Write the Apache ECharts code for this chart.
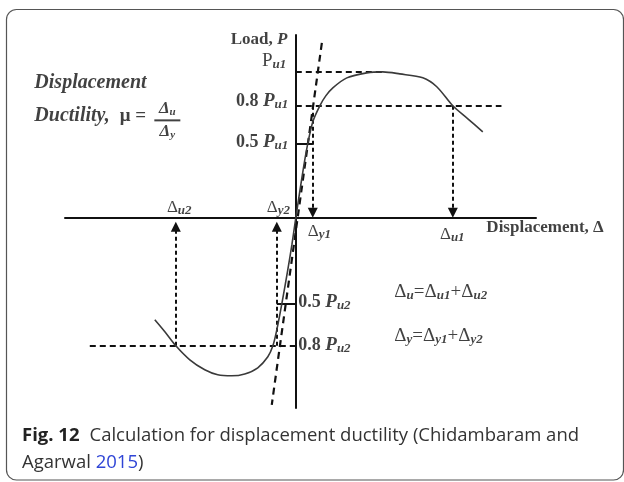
<!DOCTYPE html>
<html lang="en">
<head>
  <meta charset="UTF-8">
  <title>displacement ductility</title>
  <style>
    html, body, #chart {
      margin: 0;
      padding: 0;
      width: 100%;
      height: 100%;
      background: #fff;
    }
  </style>
</head>
<body>
<div id="chart"></div>

<script src="https://cdn.jsdelivr.net/npm/echarts@6/dist/echarts.min.js"></script>
<script>
  // load in % of Pu1, displacement in arbitrary units (Δu1 = 100)
  var posDisp = [0, 2.5, 5.1, 7.6, 10.8, 15.3, 19.1, 23.6, 32.5, 45.2, 55.4, 66.2, 80.9, 89.8, 100, 109.6, 119.1];
  var posLoad = [0, 17.8, 35.6, 50.6, 65.6, 76.6, 83.4, 88.9, 95.7, 99.1, 99.8, 98.4, 95.7, 89.6, 76.6, 67.7, 58.8];
  var negDisp = [0, -2.5, -5.1, -8.9, -12.1, -14.6, -17.8, -24.2, -32.5, -40.8, -49.7, -58, -67.5, -76.4, -83.4, -89.8];
  var negLoad = [0, -18.5, -35.6, -58.8, -76.6, -87.5, -95, -102.5, -106.7, -108, -107.3, -103.9, -97.1, -87.5, -77.9, -69.7];

  // dashed secant through the origin
  var secantDisp = [16.6, -15.3];
  var secantLoad = [119.6, -127.8];

  // load levels: Pu1, 0.8Pu1, 0.5Pu1, 0.5Pu2, 0.8Pu2 and where their guide ends
  var levelLoad = [100, 76.6, 50.6, -58.8, -87.5];
  var levelEnd = [55.4, 131, 10.8, -12.1, -133];
  var levelDashed = [true, true, false, false, true];

  // displacements: Δy1, Δu1, Δy2, Δu2
  var dispValue = [10.8, 100, -12.1, -76.4];
  var dispFrom = [76.6, 76.6, -87.5, -87.5];

  var serif = 'Liberation Serif';
  var ink = '#111';

  function pairs(xs, ys) {
    return xs.map(function (x, i) { return [x, ys[i]]; });
  }

  var guides = [], ticks = [];
  levelLoad.forEach(function (y, i) {
    var seg = {coords: [[0, y], [levelEnd[i], y]]};
    (levelDashed[i] ? guides : ticks).push(seg);
  });

  // arrow heads are centred on the end point, so stop a half head short
  var head = 3.4;
  var arrows = dispValue.map(function (x, i) {
    var up = dispFrom[i] < 0;
    return {coords: [[x, dispFrom[i]], [x, up ? -2.7 - head : head]]};
  });

  var rich = {
    b: {fontFamily: serif, fontWeight: 'bold', fontSize: 17, color: ink},
    bi: {fontFamily: serif, fontWeight: 'bold', fontStyle: 'italic', fontSize: 17, color: ink},
    lb: {fontFamily: serif, fontWeight: 'bold', fontSize: 18, color: ink},
    lbi: {fontFamily: serif, fontWeight: 'bold', fontStyle: 'italic', fontSize: 19, color: ink},
    r: {fontFamily: serif, fontSize: 19, color: ink},
    d: {fontFamily: serif, fontSize: 17, color: ink},
    e: {fontFamily: serif, fontSize: 19, color: ink},
    s: {fontFamily: serif, fontWeight: 'bold', fontStyle: 'italic', fontSize: 13, color: ink, padding: [7, 0, 0, 0]},
    big: {fontFamily: serif, fontWeight: 'bold', fontStyle: 'italic', fontSize: 20, color: ink},
    mu: {fontFamily: serif, fontWeight: 'bold', fontSize: 19, color: ink},
    fd: {fontFamily: serif, fontWeight: 'bold', fontStyle: 'italic', fontSize: 17, color: ink},
    fs: {fontFamily: serif, fontWeight: 'bold', fontStyle: 'italic', fontSize: 11, color: ink, padding: [6, 0, 0, 0]},
    bar: {fontSize: 2, width: 26, height: 2, lineHeight: 6, backgroundColor: ink}
  };

  function note(x, y, text, align) {
    return {
      value: [x, y],
      label: {show: true, formatter: text, position: [0, 0], align: align || 'center', verticalAlign: 'middle', rich: rich}
    };
  }

  var notes = [
    note(-5.0, 121.7, '{b|Load, }{bi|P}', 'right'),
    note(-5.7, levelLoad[0] + 6.7, '{r|P}{s|u1}', 'right'),
    note(-4.5, levelLoad[1] + 2.7, '{lb|0.8 }{lbi|P}{s|u1}', 'right'),
    note(-4.5, levelLoad[2] + 0.7, '{lb|0.5 }{lbi|P}{s|u1}', 'right'),
    note(1.9, levelLoad[3] + 0.7, '{lb|0.5 }{lbi|P}{s|u2}', 'left'),
    note(1.9, levelLoad[4], '{lb|0.8 }{lbi|P}{s|u2}', 'left'),
    note(dispValue[0] + 4.5, -9.6, '{d|Δ}{s|y1}'),
    note(dispValue[1], -11.6, '{d|Δ}{s|u1}'),
    note(dispValue[2] + 1.3, 6.8, '{d|Δ}{s|y2}'),
    note(dispValue[3] + 2.5, 6.8, '{d|Δ}{s|u2}'),
    note(121.7, -6.8, '{b|Displacement, Δ}', 'left'),
    note(63.1, -51.3, '{e|Δ}{s|u}{e|=Δ}{s|u1}{e|+Δ}{s|u2}', 'left'),
    note(63.1, -81.4, '{e|Δ}{s|y}{e|=Δ}{s|y1}{e|+Δ}{s|y2}', 'left'),
    note(-166.2, 92.3, '{big|Displacement}', 'left'),
    note(-166.2, 69.1, '{big|Ductility,  }{mu|μ = }', 'left'),
    note(-81.5, 66.3, '{fd|Δ}{fs|u}\n{bar| }\n{fd|Δ}{fs|y}')
  ];

  var chart = echarts.init(document.getElementById('chart'));

  chart.setOption({
    animation: false,
    backgroundColor: '#fff',
    title: {
      left: 22,
      top: 422,
      padding: 0,
      text: '{fb|Fig. 12}  {n|Calculation for displacement ductility (Chidambaram and}\n{n|Agarwal }{l|2015}{n|)}',
      textStyle: {
        rich: {
          fb: {fontFamily: 'Open Sans', fontWeight: 'bold', fontSize: 18.5, color: '#222', lineHeight: 27},
          n: {fontFamily: 'Open Sans', fontWeight: 'normal', fontSize: 18.5, color: '#333', lineHeight: 27},
          l: {fontFamily: 'Open Sans', fontWeight: 'normal', fontSize: 18.5, color: '#2f45d6', lineHeight: 27}
        }
      }
    },
    graphic: [{
      type: 'rect',
      shape: {x: 6.5, y: 9.5, width: 617, height: 470.5, r: 10},
      style: {fill: 'none', stroke: '#555', lineWidth: 1.2}
    }],
    grid: {left: 65, right: 88, top: 35, bottom: 74},
    xAxis: {
      type: 'value', min: -147, max: 153,
      axisLine: {onZero: true, lineStyle: {color: ink, width: 2}},
      axisTick: {show: false}, axisLabel: {show: false}, splitLine: {show: false}
    },
    yAxis: {
      type: 'value', min: -130, max: 125,
      axisLine: {onZero: true, lineStyle: {color: ink, width: 2}},
      axisTick: {show: false}, axisLabel: {show: false}, splitLine: {show: false}
    },
    series: [
      {
        type: 'lines', coordinateSystem: 'cartesian2d', silent: true,
        lineStyle: {color: ink, width: 2, type: [6, 4], opacity: 1},
        data: guides
      },
      {
        type: 'lines', coordinateSystem: 'cartesian2d', silent: true,
        lineStyle: {color: ink, width: 2, type: 'solid', opacity: 1},
        data: ticks
      },
      {
        type: 'lines', coordinateSystem: 'cartesian2d', silent: true,
        symbol: ['none', 'triangle'], symbolSize: [9, 10],
        itemStyle: {color: ink},
        lineStyle: {color: ink, width: 2, type: [4, 3], opacity: 1},
        data: arrows
      },
      {
        type: 'line', silent: true, showSymbol: false,
        lineStyle: {color: ink, width: 2.2, type: [7, 5]},
        data: pairs(secantDisp, secantLoad)
      },
      {
        type: 'line', silent: true, showSymbol: false, smooth: 0.3,
        lineStyle: {color: '#3a3a3a', width: 1.6},
        data: pairs(posDisp, posLoad)
      },
      {
        type: 'line', silent: true, showSymbol: false, smooth: 0.3,
        lineStyle: {color: '#3a3a3a', width: 1.6},
        data: pairs(negDisp, negLoad)
      },
      {
        type: 'scatter', silent: true, clip: false, z: 10,
        symbolSize: 1, itemStyle: {color: 'transparent'},
        data: notes
      }
    ]
  });
</script>
</body>
</html>
